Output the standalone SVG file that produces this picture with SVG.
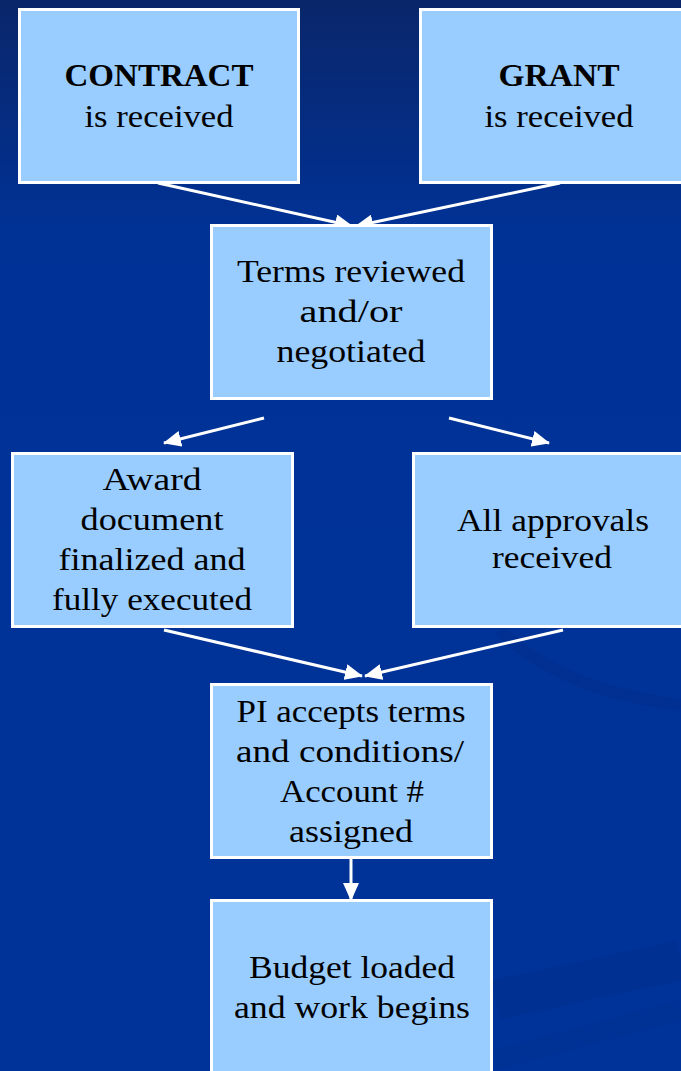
<svg xmlns="http://www.w3.org/2000/svg" width="681" height="1071" viewBox="0 0 681 1071">
<defs>
<linearGradient id="bg" x1="0" y1="0" x2="0" y2="1">
<stop offset="0" stop-color="#0a266a"/>
<stop offset="0.22" stop-color="#003296"/>
<stop offset="1" stop-color="#003399"/>
</linearGradient>
<marker id="ah" viewBox="0 0 18 16" refX="17" refY="8" markerWidth="18" markerHeight="16" markerUnits="userSpaceOnUse" orient="auto">
<path d="M0,0 L18,8 L0,16 Z" fill="#ffffff"/>
</marker>
<style>
.box{fill:#99ccff;stroke:#ffffff;stroke-width:3}
.t{font-family:"Liberation Serif","Times New Roman",serif;font-size:32px;fill:#000000;text-anchor:middle}
.b{font-weight:bold}
.c{stroke:#ffffff;stroke-width:3;fill:none;marker-end:url(#ah)}
</style>
</defs>
<rect x="0" y="0" width="681" height="1071" fill="url(#bg)"/>
<g id="swoosh" fill="none" stroke="#002a88" stroke-opacity="0.35">
<path d="M500,630 Q560,690 681,705" stroke-width="12"/>
<path d="M495,1000 L681,960" stroke-width="40"/>
<path d="M495,1060 L681,1010" stroke-width="20" stroke-opacity="0.25"/>
</g>
<g id="connectors">
<line class="c" x1="158" y1="183" x2="352" y2="226"/>
<line class="c" x1="560" y1="183" x2="356" y2="226"/>
<line class="c" x1="264" y1="418" x2="164" y2="443"/>
<line class="c" x1="449" y1="418" x2="549" y2="443"/>
<line class="c" x1="164" y1="630" x2="362" y2="676"/>
<line class="c" x1="563" y1="630" x2="365" y2="676"/>
<line class="c" x1="351" y1="858" x2="351" y2="900"/>
</g>
<g id="contract">
<rect class="box" x="19.5" y="9.5" width="279" height="173"/>
<text class="t b" x="159" y="86" textLength="189" lengthAdjust="spacingAndGlyphs">CONTRACT</text>
<text class="t" x="159" y="127" textLength="149" lengthAdjust="spacingAndGlyphs">is received</text>
</g>
<g id="grant">
<rect class="box" x="420.5" y="9.5" width="270" height="173"/>
<text class="t b" x="559" y="86" textLength="121" lengthAdjust="spacingAndGlyphs">GRANT</text>
<text class="t" x="559" y="127" textLength="149" lengthAdjust="spacingAndGlyphs">is received</text>
</g>
<g id="terms">
<rect class="box" x="211.5" y="225.5" width="280" height="173"/>
<text class="t" x="351" y="282" textLength="228" lengthAdjust="spacingAndGlyphs">Terms reviewed</text>
<text class="t" x="351" y="322" textLength="103" lengthAdjust="spacingAndGlyphs">and/or</text>
<text class="t" x="351" y="362" textLength="149" lengthAdjust="spacingAndGlyphs">negotiated</text>
</g>
<g id="award">
<rect class="box" x="12.5" y="453.5" width="280" height="173"/>
<text class="t" x="152" y="490" textLength="99" lengthAdjust="spacingAndGlyphs">Award</text>
<text class="t" x="152" y="530" textLength="143" lengthAdjust="spacingAndGlyphs">document</text>
<text class="t" x="152" y="570" textLength="187" lengthAdjust="spacingAndGlyphs">finalized and</text>
<text class="t" x="152" y="610" textLength="200" lengthAdjust="spacingAndGlyphs">fully executed</text>
</g>
<g id="approvals">
<rect class="box" x="413.5" y="453.5" width="277" height="173"/>
<text class="t" x="553" y="531" textLength="192" lengthAdjust="spacingAndGlyphs">All approvals</text>
<text class="t" x="552" y="568" textLength="120" lengthAdjust="spacingAndGlyphs">received</text>
</g>
<g id="pi">
<rect class="box" x="211.5" y="684.5" width="280" height="173"/>
<text class="t" x="351" y="722" textLength="229" lengthAdjust="spacingAndGlyphs">PI accepts terms</text>
<text class="t" x="350" y="762" textLength="228" lengthAdjust="spacingAndGlyphs">and conditions/</text>
<text class="t" x="352" y="802" textLength="144" lengthAdjust="spacingAndGlyphs">Account #</text>
<text class="t" x="351" y="842" textLength="124" lengthAdjust="spacingAndGlyphs">assigned</text>
</g>
<g id="budget">
<rect class="box" x="211.5" y="900.5" width="280" height="180"/>
<text class="t" x="352" y="978" textLength="206" lengthAdjust="spacingAndGlyphs">Budget loaded</text>
<text class="t" x="352" y="1018" textLength="236" lengthAdjust="spacingAndGlyphs">and work begins</text>
</g>
</svg>
